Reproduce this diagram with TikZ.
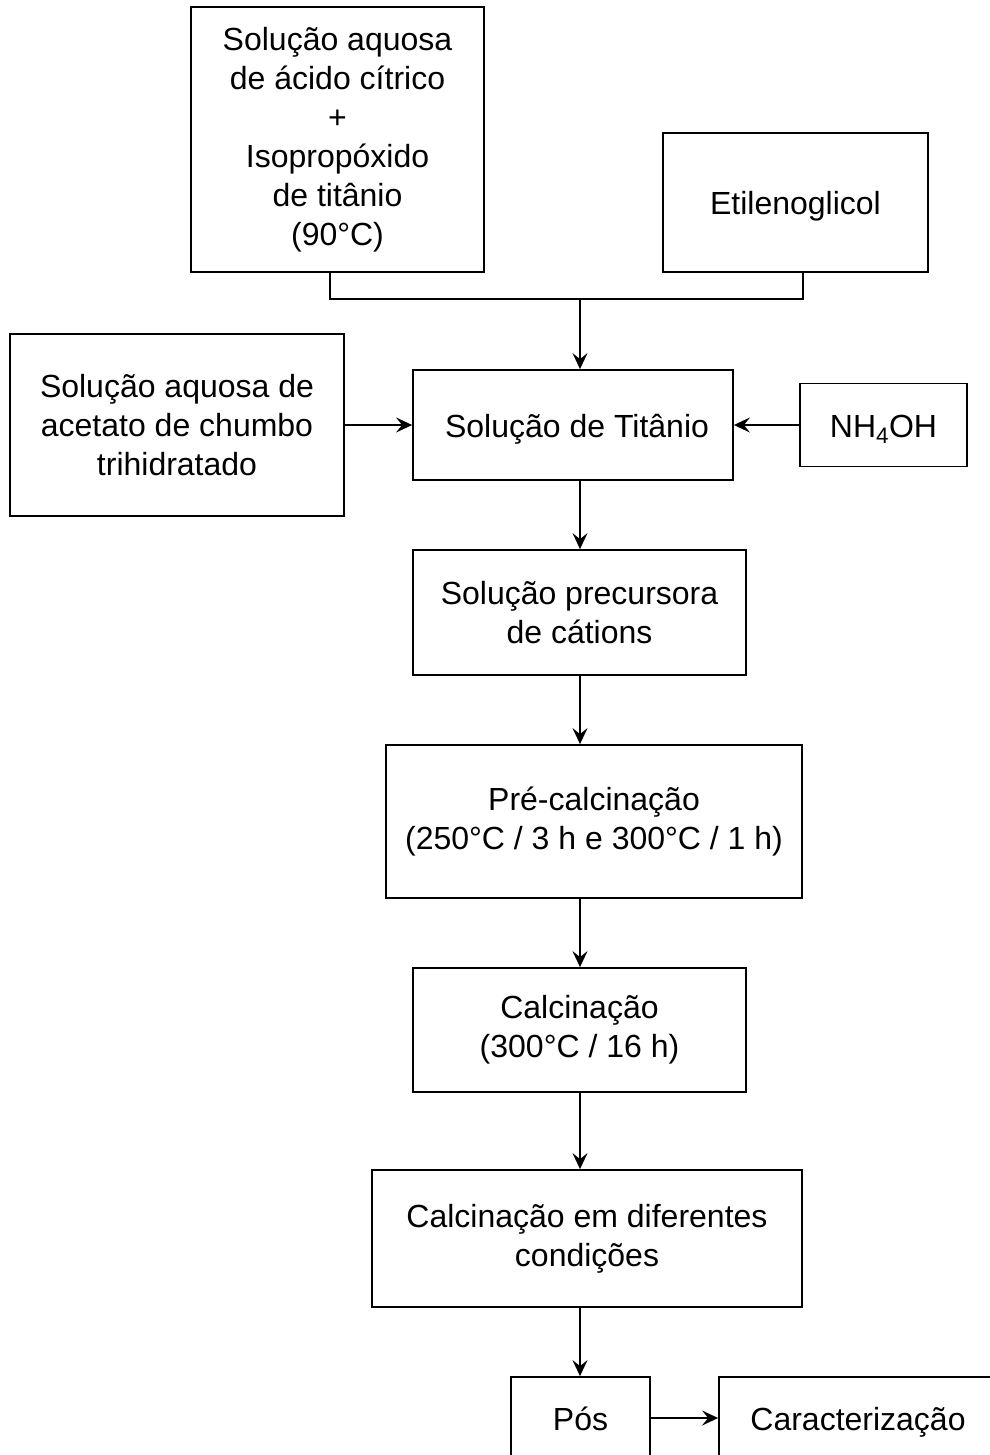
\documentclass[tikz,border=0pt]{standalone}
\usepackage{fontspec}
\setmainfont{Liberation Sans}
\usetikzlibrary{arrows.meta}
\begin{document}
\begin{tikzpicture}[x=1pt,y=-1pt,
  box/.style={draw,line width=1.8pt,align=center,inner sep=0pt,font=\fontsize{32}{39}\selectfont},
  one/.style={text height=24pt,text depth=0pt},
  arr/.style={line width=1.8pt,-{Stealth[length=16pt,width=15pt,inset=6pt]}},
  ln/.style={line width=1.8pt}]
\useasboundingbox (0,0) rectangle (989,1455);
\fill[white] (0,0) rectangle (989,1455);
\node[box,minimum width=293,minimum height=265] (b1) at (337.5,139.5) {Solução aquosa\\de ácido cítrico\\+\\Isopropóxido\\de titânio\\(90°C)};
\node[box,one,minimum width=265,minimum height=139] (b2) at (795.5,202.5) {Etilenoglicol};
\node[box,minimum width=334,minimum height=182] (ac) at (177,425) {Solução aquosa de\\acetato de chumbo\\trihidratado};
\node[box,one,minimum width=320,minimum height=110] (ti) at (573,425) {\hspace*{8pt}Solução de Titânio};
\node[box,one,minimum width=167,minimum height=83] (nh) at (883.5,425) {NH\textsubscript{4}OH};
\node[box,minimum width=333,minimum height=125] (pr) at (579.5,612.5) {Solução precursora\\de cátions};
\node[box,minimum width=416,minimum height=153] (pc) at (594,821.5) {Pré-calcinação\\(250°C / 3 h e 300°C / 1 h)};
\node[box,minimum width=333,minimum height=124] (ca) at (579.5,1030) {Calcinação\\(300°C / 16 h)};
\node[box,minimum width=430,minimum height=137] (cd) at (587,1238.5) {Calcinação em diferentes\\condições};
\node[box,one,minimum width=139,minimum height=82] (po) at (580.5,1418) {Pós};
\node[box,one,minimum width=278,minimum height=82] (cz) at (858,1418) {Caracterização};
\coordinate (j) at (580,299);
\coordinate (ax) at (580,0);
\draw[ln] ([xshift=-7.5pt]b1.south) |- (j) -| ([xshift=7.5pt]b2.south);
\draw[arr] (j) -- (j |- ti.north);
\draw[arr] (ac.east |- ti) -- (ti.west);
\draw[arr] (nh.west) -- (ti.east |- nh);
\draw[arr] (ti.south -| ax) -- (pr.north -| ax);
\draw[arr] (pr.south -| ax) -- (pc.north -| ax);
\draw[arr] (pc.south -| ax) -- (ca.north -| ax);
\draw[arr] (ca.south -| ax) -- (cd.north -| ax);
\draw[arr] (cd.south -| ax) -- (po.north -| ax);
\draw[arr] (po.east) -- (cz.west);
\end{tikzpicture}
\end{document}
